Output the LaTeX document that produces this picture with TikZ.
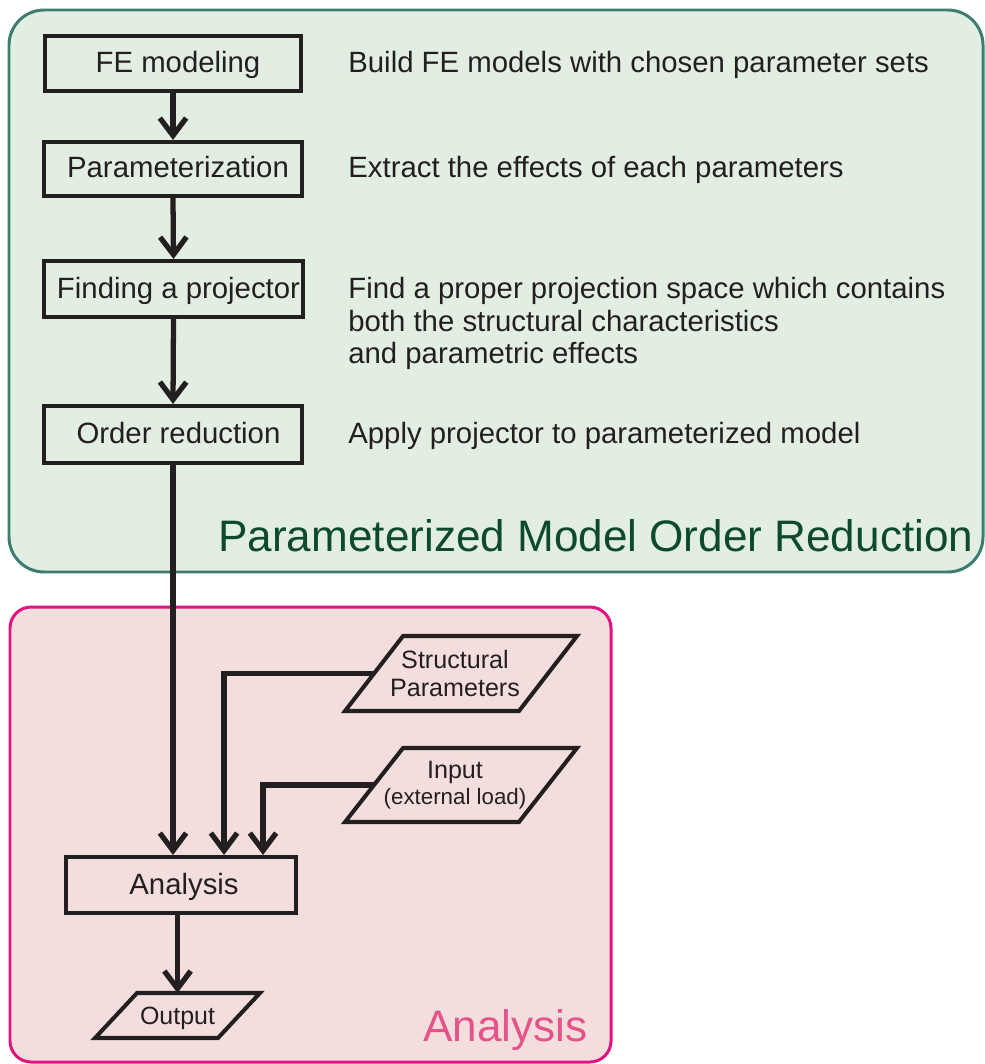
\documentclass[tikz,border=0pt]{standalone}
\usepackage{fontspec}
\setmainfont{Liberation Sans}
\usetikzlibrary{arrows.meta,calc}

\definecolor{pmorfill}{HTML}{E2EEE2}
\definecolor{pmorline}{HTML}{3E7C72}
\definecolor{pmortitle}{HTML}{0D4A2D}
\definecolor{anafill}{HTML}{F3DEDD}
\definecolor{analine}{HTML}{E2127F}
\definecolor{anatitle}{HTML}{E5538A}
\definecolor{ink}{HTML}{231F20}

\tikzset{
  stepbox/.style={draw=ink, line width=2.3pt, rectangle, inner sep=0pt},
  iobox/.style={rectangle, inner sep=0pt, outer sep=0pt, align=center, text=ink},
  ioline/.style={draw=ink, line width=2.3pt, line join=miter},
  boxtext/.style={text=ink, inner sep=0pt, font=\fontsize{16.7pt}{19pt}\selectfont},
  desc/.style={text=ink, inner sep=0pt, anchor=base west, font=\fontsize{16.7pt}{19pt}\selectfont},
  grouptitle/.style={inner sep=0pt, anchor=base west, font=\fontsize{25.1pt}{30pt}\selectfont},
  arr/.style={draw=ink, line width=3pt, -{Straight Barb[length=10pt, width=15pt]}},
}

\begin{document}
\begin{tikzpicture}[x=0.02cm, y=-0.02cm]
\useasboundingbox (0,0) rectangle (984,1064);

% group backgrounds
\draw[pmorline, fill=pmorfill, line width=1.7pt, rounded corners=20pt] (9,10) rectangle (983,572);
\draw[analine, fill=anafill, line width=1.7pt, rounded corners=12pt] (10,607) rectangle (611,1062);

% process steps
\node[stepbox, minimum width=5.12cm, minimum height=1.1cm]  (fe)   at (173,63.5) {};
\node[stepbox, minimum width=5.16cm, minimum height=1.08cm] (par)  at (173,169)  {};
\node[stepbox, minimum width=5.18cm, minimum height=1.12cm] (proj) at (173.5,289) {};
\node[stepbox, minimum width=5.16cm, minimum height=1.14cm] (red)  at (173,434.5) {};
\node[stepbox, minimum width=4.6cm,  minimum height=1.12cm] (ana)  at (181,885)  {};

\node[boxtext, anchor=base] (fe-t)   at (178,73)    {FE modeling};
\node[boxtext, anchor=base] (par-t)  at (178,177)   {Parameterization};
\node[boxtext, anchor=base] (proj-t) at (178.5,298) {Finding a projector};
\node[boxtext, anchor=base] (red-t)  at (178.5,443) {Order reduction};
\node[boxtext, anchor=base] (ana-t)  at (184,894)   {Analysis};

% descriptions
\node[desc] (d1)  at (348,73)  {Build FE models with chosen parameter sets};
\node[desc] (d2)  at (348,178) {Extract the effects of each parameters};
\node[desc] (d3a) at (348,298) {Find a proper projection space which contains};
\node[desc] (d3b) at (348,331) {both the structural characteristics};
\node[desc] (d3c) at (348,363) {and parametric effects};
\node[desc] (d4)  at (348,443) {Apply projector to parameterized model};

% inputs and output: text nodes with slanted outlines
\node[iobox, minimum width=4.64cm, minimum height=1.5cm,
      font=\fontsize{14.3pt}{16pt}\selectfont] (sp) at (455,673.5)
      {Structural\\Parameters};
\draw[ioline] ($(sp.north west)+(64,0)$) -- ($(sp.north east)+(6,0)$)
  -- ($(sp.south east)+(-52,0)$) -- ($(sp.south west)+(6,0)$) -- cycle;
\coordinate (sp-in) at ($(sp.west)+(35,0)$);

\node[iobox, minimum width=4.64cm, minimum height=1.48cm,
      font=\fontsize{14.3pt}{15pt}\selectfont] (inp) at (455,785)
      {Input\\{\fontsize{12.7pt}{15pt}\selectfont(external load)}};
\draw[ioline] ($(inp.north west)+(64,0)$) -- ($(inp.north east)+(6,0)$)
  -- ($(inp.south east)+(-52,0)$) -- ($(inp.south west)+(6,0)$) -- cycle;
\coordinate (inp-in) at ($(inp.west)+(35,0)$);

\node[iobox, minimum width=3.3cm, minimum height=0.9cm, text depth=0pt,
      font=\fontsize{14.2pt}{16pt}\selectfont] (out) at (177.5,1015.5) {Output};
\draw[ioline] ($(out.north west)+(42,0)$) -- (out.north east)
  -- ($(out.south east)+(-42,0)$) -- (out.south west) -- cycle;

% group titles
\node[grouptitle, text=pmortitle] (pmor-title) at (218,551) {Parameterized Model Order Reduction};
\node[grouptitle, text=anatitle] (ana-title) at (423,1041) {Analysis};

% connectors
\draw[arr] (fe.south) -- (par.north);
\draw[arr] (par.south) -- (proj.north);
\draw[arr] (proj.south) -- (red.north);
\draw[arr] (red.south) -- (red.south |- ana.north);
\draw[arr] (sp-in) -| ($(ana.north)+(43,0)$);
\draw[arr] (inp-in) -| ($(ana.north)+(82,0)$);
\draw[arr] (out.north |- ana.south) -- (out.north);
\end{tikzpicture}
\end{document}
